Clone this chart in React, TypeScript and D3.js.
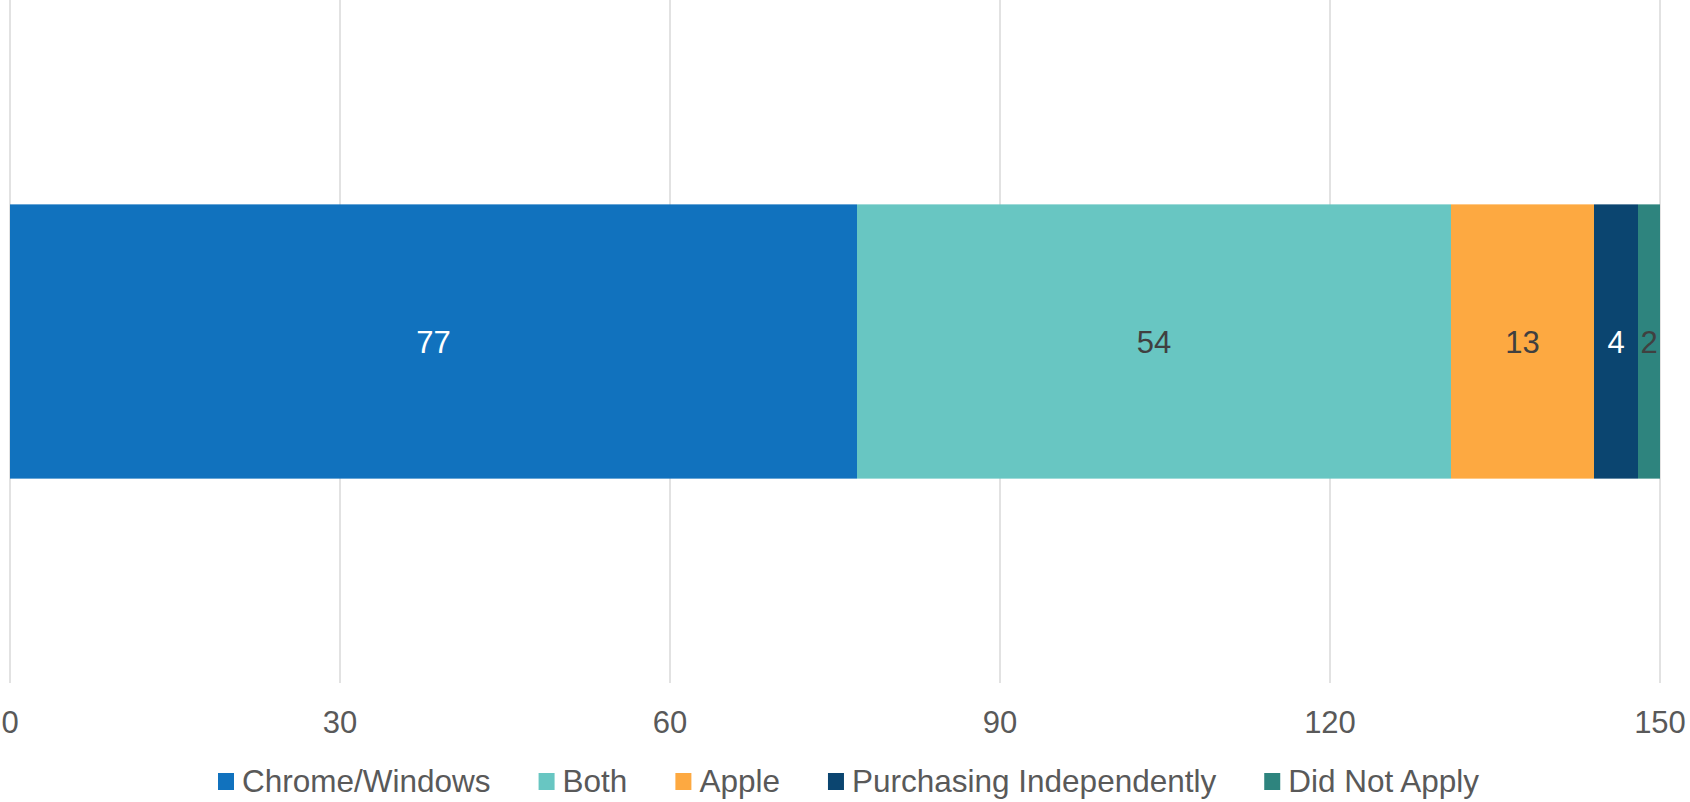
import * as React from 'react';
import * as d3 from 'd3';

const categories = ['Chrome/Windows', 'Both', 'Apple', 'Purchasing Independently', 'Did Not Apply'];
const values = [77, 54, 13, 4, 2];
const colors = ['#1172be', '#68c6c2', '#fda941', '#0b4570', '#2e847e'];
const labelColors = ['#ffffff', '#404040', '#404040', '#ffffff', '#404040'];
const xTicks = [0, 30, 60, 90, 120, 150];

const W = 1690;
const H = 802;
const FONT = '"Liberation Sans", Arial, sans-serif';

const draw = (svgNode: SVGSVGElement) => {
	const svg = d3.select(svgNode);
	svg.html('');

	const x = d3.scaleLinear().domain([0, 150]).range([10, 1660]);
	const y = d3.scaleBand().domain(['row']).range([0, 683]).paddingInner(0.427).paddingOuter(0.427);

	// vertical gridlines
	svg.append('g')
		.selectAll('line')
		.data(xTicks)
		.enter().append('line')
		.attr('x1', d => x(d))
		.attr('x2', d => x(d))
		.attr('y1', 0)
		.attr('y2', 683)
		.attr('stroke', '#d9d9d9')
		.attr('stroke-width', 1.5);

	// stacked segments
	let acc = 0;
	const segs = values.map((v, i) => {
		const s = {start: acc, end: acc + v, i};
		acc += v;
		return s;
	});

	const bandY = y('row') as number;
	const bw = y.bandwidth();

	svg.append('g')
		.selectAll('rect')
		.data(segs)
		.enter().append('rect')
		.attr('x', d => x(d.start))
		.attr('width', d => x(d.end) - x(d.start))
		.attr('y', bandY)
		.attr('height', bw)
		.attr('fill', d => colors[d.i]);

	svg.append('g')
		.selectAll('text')
		.data(segs)
		.enter().append('text')
		.attr('x', d => (x(d.start) + x(d.end)) / 2)
		.attr('y', bandY + bw / 2 + 11)
		.attr('text-anchor', 'middle')
		.style('font-family', FONT)
		.style('font-size', '31px')
		.attr('fill', d => labelColors[d.i])
		.text(d => values[d.i]);

	// x tick labels
	svg.append('g')
		.selectAll('text')
		.data(xTicks)
		.enter().append('text')
		.attr('x', d => x(d))
		.attr('y', 733)
		.attr('text-anchor', 'middle')
		.style('font-family', FONT)
		.style('font-size', '31px')
		.attr('fill', '#595959')
		.text(d => d);

	// legend
	const legend = svg.append('g').attr('transform', 'translate(218,0)');
	const items = legend.selectAll('g')
		.data(categories)
		.enter().append('g');

	items.append('rect')
		.attr('width', 16)
		.attr('height', 17)
		.attr('y', 773)
		.attr('fill', (d, i) => colors[i]);

	items.append('text')
		.attr('x', 24)
		.attr('y', 792)
		.style('font-family', FONT)
		.style('font-size', '31.5px')
		.attr('fill', '#595959')
		.text(d => d);

	let cx = 0;
	items.each(function () {
		const g = d3.select(this);
		const tw = (g.select('text').node() as SVGTextElement).getComputedTextLength();
		g.attr('transform', `translate(${cx},0)`);
		cx += 24 + tw + 48;
	});
};

const App = () => {
	const ref = React.useRef<SVGSVGElement>(null);

	React.useEffect(() => {
		if (ref.current) draw(ref.current);
	}, []);

	return (
		<svg
			ref={ref}
			width={W}
			height={H}
			style={{position: 'absolute', left: 0, top: 0, background: '#fff'}}
		/>
	);
};

export default App;
